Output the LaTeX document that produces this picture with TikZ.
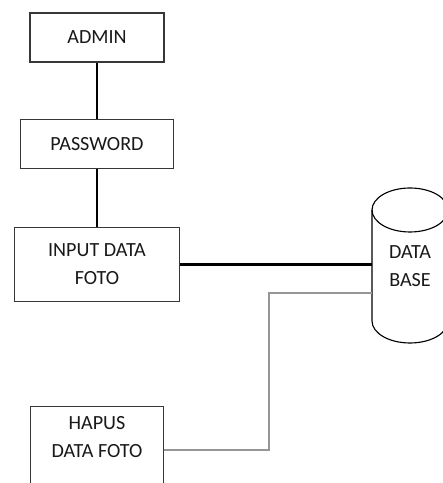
\documentclass[tikz,border=0pt]{standalone}
\usepackage{fontspec}
\setmainfont{Carlito}
\usepackage{tikz}
\usetikzlibrary{
  calc,
  positioning
}
\definecolor{boxline}{RGB}{55,55,55}
\definecolor{textgray}{RGB}{25,25,25}
\definecolor{wiregray}{RGB}{150,150,150}

\begin{document}
\begin{tikzpicture}[
  box/.style={draw=boxline, line width=0.8pt, fill=white, align=center,
              text=textgray, font=\fontsize{14.3pt}{19.9pt}\selectfont},
  boxtext/.style={align=center, text=textgray, font=\fontsize{14.3pt}{19.9pt}\selectfont},
  dbline/.style={draw=black, line width=0.8pt},
  link/.style={line width=2.1pt, black},
  linkthin/.style={line width=1.3pt, wiregray},
  node distance=1.4cm
]
  \useasboundingbox (0,0) rectangle (11.05,12.075);

  % Boxes
  \node[box, minimum width=3.35cm, minimum height=1.225cm] (admin) at (2.425,11.1375) {ADMIN};
  \node[box, minimum width=3.825cm, minimum height=1.225cm, below=1.4cm of admin] (password) {PASSWORD};
  \node[box, minimum width=4.125cm, minimum height=1.85cm, below=1.45cm of password] (input) {INPUT DATA\\FOTO};
  \node[box, minimum width=3.325cm, minimum height=2.2cm, below=2.6cm of input,
        label={[boxtext, anchor=north, yshift=-0.15cm]north:HAPUS\\DATA FOTO}] (hapus) {};

  % Database
  \node[boxtext] (base) at (10.25,5.425) {DATA\\BASE};
  \begin{scope}[shift={(base.center)}]
    \draw[dbline] (-0.95,1.4) -- (-0.95,-1.375)
      arc[start angle=180, end angle=360, x radius=0.95, y radius=0.55] -- (0.95,1.4);
    \draw[dbline] (0,1.4) ellipse[x radius=0.95, y radius=0.55];
    \coordinate (baseside) at (-0.95,0);
  \end{scope}
  \coordinate (baseport) at ([yshift=-0.72cm]input.east -| baseside);

  % Links
  \draw[link] (admin.south) -- (admin.south |- password.north);
  \draw[link] (password) -- (input);
  \draw[link] (input.east) -- (input.east -| baseside);
  \draw[linkthin] (hapus.east) -- ++(2.625,0) |- (baseport);
\end{tikzpicture}
\end{document}
